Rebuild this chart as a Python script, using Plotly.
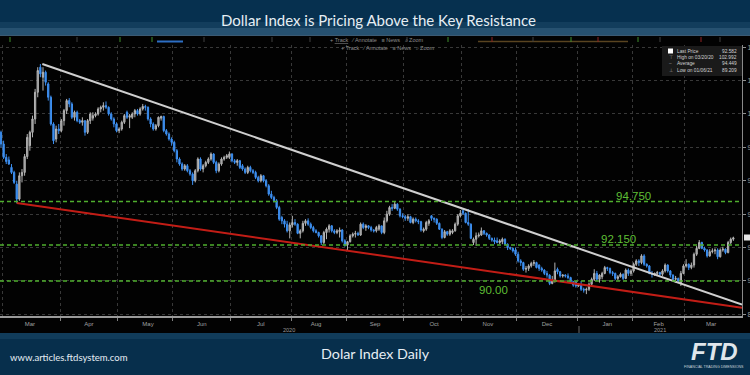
import pandas as pd
import plotly.graph_objects as go

# ---------------- data (daily OHLC, Feb 28 2020 -> Mar 25 2021, weekdays) ----------------
opens = [
    98.90, 98.20, 97.40, 97.25, 96.80, 96.50, 95.80, 94.90, 96.30, 96.50, 97.45, 98.10, 98.90, 99.70, 101.30, 102.80, 102.20, 102.50, 101.80, 101.00, 99.40, 98.50, 99.10,
    99.00, 99.60, 100.20, 100.80, 100.60, 99.80, 100.10, 99.60, 99.50, 99.60, 98.90, 99.60, 99.75, 99.90, 100.00, 100.30, 100.40, 100.50, 100.40, 100.00, 99.70, 99.40,
    99.00, 99.10, 99.50, 100.10, 99.80, 99.80, 100.00, 100.20, 100.00, 100.30, 100.45, 100.40, 99.70, 99.40, 99.10, 99.30, 99.75, 99.85, 99.00, 98.80, 98.50,
    98.30, 97.80, 97.30, 97.00, 96.70, 96.90, 96.60, 96.40, 96.00, 96.60, 97.30, 96.70, 96.90, 97.10, 97.30, 97.60, 97.10, 96.60, 97.00, 97.30, 97.40, 97.40,
    97.60, 97.20, 97.10, 97.20, 96.90, 96.70, 96.50, 96.80, 96.60, 96.50, 96.20, 96.00, 96.30, 96.00, 95.70, 95.20, 95.00, 94.80, 94.40, 93.80, 93.60, 93.40, 93.00,
    93.35, 93.50, 93.40, 92.85, 93.00, 93.45, 93.60, 93.40, 93.20, 93.00, 92.90, 92.70, 92.30, 92.90, 93.10, 93.30, 93.00, 92.90, 92.95, 93.05, 92.40,
    92.15, 92.35, 92.70, 92.80, 92.85, 92.75, 93.40, 93.20, 93.30, 93.20, 93.05, 93.00, 93.10, 93.30, 92.90, 93.60, 94.00, 94.40, 94.35, 94.60, 94.30, 93.90,
    93.85, 93.75, 93.85, 93.50, 93.70, 93.60, 93.55, 93.00, 93.10, 93.45, 93.90, 93.75, 93.70, 93.45, 93.10, 92.60, 92.95, 92.80, 92.90, 93.00, 93.40, 93.90,
    94.20, 94.05, 93.50, 93.40, 92.30, 92.50, 92.70, 92.75, 93.00, 92.85, 92.75, 92.55, 92.45, 92.40, 92.30, 92.35, 92.50, 92.20, 92.00, 91.95, 91.85,
    91.60, 91.20, 91.10, 90.70, 90.75, 90.90, 91.05, 91.10, 90.95, 90.75, 90.65, 90.45, 90.35, 89.85, 90.00, 90.70, 90.55, 90.30, 90.35, 90.30, 90.20, 89.95, 89.95,
    89.70, 89.75, 89.50, 89.45, 89.50, 89.80, 90.10, 90.45, 90.10, 90.25, 90.45, 90.80, 90.75, 90.50, 90.45, 90.15, 90.25, 90.40, 90.15, 90.65, 90.45,
    90.60, 91.00, 91.20, 91.10, 91.50, 91.00, 90.90, 90.45, 90.40, 90.45, 90.50, 90.40, 90.60, 90.95, 90.60, 90.35, 90.10, 90.15, 89.90, 90.45,
    90.90, 91.00, 90.80, 90.95, 91.60, 91.95, 92.30, 91.95, 91.85, 91.50, 91.75, 91.80, 91.85, 91.45, 91.85, 91.90, 91.70, 92.30, 92.50,
]
highs = [
    99.00, 98.40, 97.60, 97.45, 97.00, 96.60, 96.00, 96.50, 96.70, 97.60, 98.80, 99.00, 99.90, 101.50, 102.80, 102.99, 102.80, 102.60, 101.90, 101.10, 99.50, 99.30, 99.40,
    99.70, 100.30, 100.90, 100.95, 100.70, 100.20, 100.20, 99.70, 99.80, 99.60, 99.70, 100.10, 100.10, 100.10, 100.40, 100.50, 100.70, 100.75, 100.45, 100.10, 99.80, 99.50,
    99.20, 99.60, 100.00, 100.20, 100.00, 100.10, 100.30, 100.30, 100.40, 100.60, 100.55, 100.45, 99.80, 99.50, 99.40, 99.85, 99.90, 99.90, 99.10, 98.90, 98.60,
    98.40, 97.90, 97.40, 97.10, 97.00, 97.00, 96.70, 96.50, 96.70, 97.40, 97.40, 97.00, 97.20, 97.40, 97.70, 97.65, 97.20, 97.10, 97.40, 97.50, 97.60, 97.75,
    97.65, 97.30, 97.30, 97.25, 97.00, 96.80, 96.90, 96.90, 96.70, 96.60, 96.30, 96.40, 96.35, 96.10, 95.80, 95.40, 95.10, 94.90, 94.50, 93.90, 93.70, 93.60, 93.50,
    93.90, 93.70, 93.45, 93.10, 93.60, 93.70, 93.75, 93.50, 93.30, 93.10, 92.95, 92.75, 93.00, 93.20, 93.40, 93.35, 93.10, 93.10, 93.20, 93.10, 92.50,
    92.40, 92.80, 92.90, 93.00, 92.95, 93.50, 93.50, 93.40, 93.35, 93.30, 93.10, 93.30, 93.40, 93.30, 93.80, 94.20, 94.50, 94.60, 94.74, 94.65, 94.35, 94.05,
    93.95, 94.00, 93.90, 93.80, 93.80, 93.70, 93.60, 93.20, 93.60, 93.70, 93.95, 93.80, 93.75, 93.50, 93.15, 93.05, 93.00, 93.10, 93.10, 93.50, 94.00, 94.25,
    94.30, 94.10, 94.30, 93.45, 92.60, 92.90, 92.90, 93.20, 93.05, 92.90, 92.80, 92.60, 92.60, 92.60, 92.50, 92.60, 92.55, 92.25, 92.05, 92.00, 92.00,
    91.75, 91.30, 91.15, 90.90, 91.00, 91.15, 91.25, 91.15, 91.00, 90.85, 90.70, 90.60, 90.40, 90.30, 91.10, 90.80, 90.60, 90.40, 90.40, 90.45, 90.25, 90.00, 90.00,
    89.80, 90.00, 89.60, 89.60, 89.90, 90.20, 90.70, 90.60, 90.40, 90.55, 90.90, 90.85, 90.80, 90.60, 90.50, 90.35, 90.50, 90.45, 90.75, 90.75, 90.70,
    91.10, 91.30, 91.30, 91.60, 91.60, 91.05, 90.95, 90.60, 90.50, 90.60, 90.55, 90.70, 91.05, 91.00, 90.65, 90.40, 90.30, 90.20, 90.60, 91.00,
    91.30, 91.05, 91.10, 91.70, 92.10, 92.45, 92.35, 92.05, 91.90, 91.90, 91.95, 91.95, 91.95, 91.95, 92.05, 91.95, 92.40, 92.60, 92.65,
]
lows = [
    98.00, 97.30, 97.00, 96.95, 96.40, 95.80, 94.65, 94.80, 95.90, 96.30, 97.30, 97.80, 98.60, 99.40, 101.00, 102.20, 101.40, 101.70, 100.80, 99.30, 98.20, 98.30, 98.80,
    98.90, 99.30, 100.00, 100.40, 99.70, 99.60, 99.50, 99.40, 99.30, 98.70, 98.80, 99.40, 99.60, 99.80, 99.90, 100.10, 100.20, 100.30, 99.90, 99.60, 99.20, 98.90,
    98.85, 99.00, 99.40, 99.70, 99.15, 99.70, 99.80, 99.90, 99.90, 100.20, 100.20, 99.60, 99.20, 99.00, 99.00, 99.20, 99.60, 98.90, 98.70, 98.40, 98.10,
    97.70, 97.10, 96.90, 96.60, 96.60, 96.50, 96.30, 95.75, 95.90, 96.50, 96.60, 96.50, 96.80, 97.00, 97.20, 97.00, 96.45, 96.50, 96.90, 97.20, 97.30, 97.30,
    97.10, 97.00, 96.90, 96.70, 96.60, 96.40, 96.40, 96.50, 96.40, 96.10, 95.90, 95.90, 95.90, 95.60, 95.10, 94.90, 94.70, 94.30, 93.60, 93.40, 93.20, 92.90, 92.55,
    93.20, 93.30, 92.80, 92.55, 92.90, 93.30, 93.30, 93.10, 92.90, 92.85, 92.60, 92.15, 92.20, 92.50, 92.90, 92.90, 92.80, 92.80, 92.60, 92.30, 92.05,
    91.80, 92.30, 92.60, 92.60, 92.70, 92.70, 93.10, 93.00, 93.10, 92.95, 92.90, 92.90, 93.00, 92.80, 92.80, 93.50, 93.90, 94.20, 94.30, 94.20, 93.80, 93.75,
    93.60, 93.60, 93.45, 93.40, 93.50, 93.40, 92.95, 92.90, 93.00, 93.30, 93.60, 93.50, 93.35, 93.05, 92.50, 92.55, 92.70, 92.70, 92.80, 92.95, 93.30, 93.80,
    93.95, 93.45, 93.30, 92.50, 92.15, 92.10, 92.60, 92.70, 92.75, 92.65, 92.45, 92.35, 92.20, 92.25, 92.20, 92.20, 92.15, 91.85, 91.85, 91.70, 91.50,
    91.10, 90.90, 90.60, 90.50, 90.60, 90.80, 90.90, 90.75, 90.60, 90.55, 90.35, 90.20, 89.75, 89.80, 89.90, 90.40, 90.20, 90.20, 90.20, 90.10, 89.85, 89.65, 89.60,
    89.65, 89.40, 89.30, 89.21, 89.40, 89.70, 90.00, 90.00, 89.90, 90.10, 90.40, 90.60, 90.40, 90.30, 90.05, 90.05, 90.20, 90.05, 90.10, 90.30, 90.30,
    90.50, 90.90, 90.90, 91.00, 90.90, 90.80, 90.40, 90.20, 90.30, 90.35, 90.30, 90.30, 90.50, 90.50, 90.20, 90.00, 89.90, 89.90, 89.70, 90.40,
    90.80, 90.65, 90.70, 90.80, 91.50, 91.90, 91.90, 91.75, 91.40, 91.45, 91.65, 91.60, 91.30, 91.40, 91.75, 91.60, 91.65, 92.20, 92.40,
]
closes = [
    98.20, 97.40, 97.15, 97.00, 96.50, 95.90, 94.90, 96.30, 96.50, 97.45, 98.60, 98.90, 99.70, 101.30, 102.60, 102.40, 102.50, 101.90, 101.00, 99.40, 98.40, 99.10, 99.00,
    99.60, 100.20, 100.80, 100.60, 99.80, 100.10, 99.60, 99.50, 99.60, 98.90, 99.60, 100.00, 99.90, 100.00, 100.30, 100.40, 100.50, 100.40, 100.00, 99.70, 99.40, 99.00,
    99.10, 99.50, 99.90, 99.80, 99.90, 100.00, 100.20, 100.00, 100.30, 100.45, 100.40, 99.70, 99.40, 99.10, 99.30, 99.80, 99.85, 99.00, 98.80, 98.50, 98.30,
    97.80, 97.30, 97.00, 96.70, 96.90, 96.60, 96.40, 96.00, 96.60, 97.30, 96.70, 96.90, 97.10, 97.30, 97.60, 97.10, 96.60, 97.00, 97.30, 97.40, 97.50, 97.60,
    97.20, 97.10, 97.20, 96.80, 96.70, 96.50, 96.80, 96.60, 96.50, 96.20, 96.00, 96.30, 96.00, 95.70, 95.20, 95.00, 94.80, 94.40, 93.70, 93.60, 93.40, 93.00, 93.35,
    93.50, 93.40, 92.85, 93.00, 93.45, 93.60, 93.40, 93.20, 93.00, 92.90, 92.70, 92.30, 92.90, 93.10, 93.30, 93.00, 92.90, 93.00, 93.05, 92.40, 92.15,
    92.35, 92.70, 92.80, 92.85, 92.75, 93.40, 93.20, 93.30, 93.20, 93.05, 93.00, 93.20, 93.30, 92.90, 93.60, 94.00, 94.40, 94.35, 94.60, 94.30, 93.90, 93.85,
    93.75, 93.85, 93.50, 93.70, 93.60, 93.55, 93.05, 93.10, 93.50, 93.60, 93.75, 93.70, 93.45, 93.10, 92.60, 92.95, 92.80, 93.00, 93.00, 93.40, 93.90, 94.05,
    94.05, 93.50, 93.40, 92.55, 92.50, 92.70, 92.75, 93.00, 92.85, 92.75, 92.55, 92.45, 92.35, 92.30, 92.40, 92.50, 92.20, 92.00, 91.95, 91.80, 91.60,
    91.20, 91.10, 90.70, 90.75, 90.90, 91.05, 91.10, 90.80, 90.75, 90.65, 90.45, 90.35, 89.85, 90.00, 90.60, 90.55, 90.30, 90.35, 90.30, 90.20, 89.95, 89.75, 89.70,
    89.75, 89.50, 89.45, 89.50, 89.80, 90.10, 90.45, 90.10, 90.35, 90.45, 90.80, 90.75, 90.50, 90.45, 90.15, 90.25, 90.40, 90.15, 90.65, 90.45, 90.60,
    91.00, 91.20, 91.10, 91.50, 91.00, 90.90, 90.45, 90.40, 90.45, 90.50, 90.40, 90.60, 90.95, 90.60, 90.35, 90.10, 90.15, 90.00, 90.45, 90.90,
    91.00, 90.80, 90.95, 91.60, 91.95, 92.30, 91.95, 91.85, 91.50, 91.75, 91.80, 91.85, 91.45, 91.85, 91.90, 91.70, 92.30, 92.50, 92.58,
]

# key horizontal levels and their labels
levels = [94.75, 92.15, 90.00]
level_labels = ["94.750", "92.150", "90.00"]

# trend lines (anchor points)
resist_x = ["2020-03-23 06:00", "2021-03-30 19:00"]
resist_y = [102.99, 88.58]
support_x = ["2020-03-09 12:00", "2021-03-30 19:00"]
support_y = [94.67, 88.40]

# legend box values
legend_rows = [("Last Price", "92.582"), ("High on 03/20/20", "102.992"),
               ("Average", "94.449"), ("Low on 01/06/21", "89.209")]

dates = pd.bdate_range("2020-02-28", "2021-03-25") + pd.Timedelta(hours=12)
assert len(dates) == len(opens) == len(highs) == len(lows) == len(closes), (
    len(dates), len(opens), len(highs), len(lows), len(closes))

# ---------------- geometry helpers ----------------
W, H = 750, 375
L, R, T, B = 0, 8, 45, 59
PW, PH = W - L - R, H - T - B


def px(x):
    return (x - L) / PW


def py(y):
    return (H - B - y) / PH


shapes = []
annotations = []


def rect(x0, y0, x1, y1, color, opacity=1.0, layer="below"):
    shapes.append(dict(type="rect", xref="paper", yref="paper",
                       x0=px(x0), x1=px(x1), y0=py(y1), y1=py(y0),
                       fillcolor=color, opacity=opacity, line=dict(width=0), layer=layer))


def seg(x0, y0, x1, y1, color, width=1.0):
    shapes.append(dict(type="line", xref="paper", yref="paper",
                       x0=px(x0), x1=px(x1), y0=py(y0), y1=py(y1),
                       line=dict(color=color, width=width), layer="above"))


def text(t, x, y, size, color, xanchor="center", yanchor="middle", family="Liberation Sans", **kw):
    annotations.append(dict(text=t, xref="paper", yref="paper", x=px(x), y=py(y),
                            xanchor=xanchor, yanchor=yanchor, showarrow=False,
                            font=dict(size=size, color=color, family=family), **kw))


# ---------------- background bands ----------------
rect(0, 0, 750, 35, "#06304f")
rect(0, 22, 750, 35, "#2a5675", 0.35)
rect(0, 28, 750, 35, "#4d7896", 0.35)
rect(0, 333, 750, 375, "#072f4c")
rect(0, 333, 750, 339, "#1a4766", 0.55)
seg(0, 35.5, 750, 35.5, "#3b5a73", 1)

# toolbar strip decorations
seg(157, 41.5, 183, 41.5, "#2d6fc4", 2)
seg(478, 41.5, 628, 41.5, "#5a4420", 1.5)
for gx in [10, 120, 152, 448, 571, 638]:
    seg(gx, 37, gx, 42, "#3f8f2c", 1)
for rx in [492, 598, 701]:
    seg(rx, 37, rx, 42, "#8f2323", 1)
for kx in [77, 204, 272, 310, 407, 533, 660, 720]:
    seg(kx, 37, kx, 42, "#404040", 1)
text("+ <u>Track</u>   ⁄ Annotate   ≡ News   ⌕ Zoom", 377, 40, 5.5, "#8c8c8c")
text("+ Track   ⁄ Annotate   ≡ News   ⌕ Zoom", 388, 47.5, 5.5, "#8c8c8c")

# legend box
rect(662, 46, 742, 76, "#1a1a1a", 1.0, layer="above")
rect(668, 48.5, 673, 53.5, "#ffffff", 1.0, layer="above")
icons = ["", "⊤", "–", "⊥"]
for i, (lab, val) in enumerate(legend_rows):
    yy = 51 + i * 6.4
    if icons[i]:
        text(icons[i], 670.5, yy, 4.8, "#9a9a9a")
    text(lab, 675, yy, 4.8, "#d2d2d2", xanchor="left")
    text(val, 739, yy, 4.8, "#d2d2d2", xanchor="right")

# last price tag at right edge
rect(744, 234.5, 752, 240.5, "#e8e8e8", 1.0, layer="above")

# x axis year row
text("2020", 289, 330, 5.5, "#9a9a9a")
text("2021", 660, 330, 5.5, "#9a9a9a")
seg(579, 326, 579, 333, "#6a6a6a", 1)

# titles
text("Dollar Index is Pricing Above the Key Resistance", 378, 19.5, 15, "#e6eef4", family="Lato")
text("Dolar Index Daily", 376, 354, 14.3, "#e6eef4", family="Lato")
text("www.articles.ftdsystem.com", 8, 357, 9.5, "#e6eef4", xanchor="left", family="Lato")
text("<b><i>FTD</i></b>", 714, 351, 24, "#dfe6eb", family="Liberation Sans")
text("FINANCIAL TRADING DIMENSIONS", 714, 367, 3.6, "#c9d3da")

# level labels
lab_pos = [(633, 196), (618, 239), (494, 290)]
for lv, lb, (lx, ly) in zip(levels, level_labels, lab_pos):
    shapes.append(dict(type="line", xref="paper", yref="y", x0=0, x1=1, y0=lv, y1=lv,
                       line=dict(color="#4fae2e", width=1.5, dash="4px,3px"), layer="above"))
    text(lb, lx, ly, 11.5, "#5fbf35", family="Liberation Sans")

# ---------------- traces ----------------
fig = go.Figure()
fig.add_trace(go.Candlestick(
    x=dates, open=opens, high=highs, low=lows, close=closes,
    increasing=dict(line=dict(color="#b4b4b4", width=1), fillcolor="#8e8e8e"),
    decreasing=dict(line=dict(color="#3d8ff0", width=1), fillcolor="#3d8ff0"),
    whiskerwidth=0, showlegend=False, hoverinfo="skip"))
fig.add_trace(go.Scatter(x=resist_x, y=resist_y, mode="lines",
                         line=dict(color="#cfcfcf", width=2), showlegend=False, hoverinfo="skip"))
fig.add_trace(go.Scatter(x=support_x, y=support_y, mode="lines",
                         line=dict(color="#c21d16", width=2), showlegend=False, hoverinfo="skip"))

fig.update_layout(
    width=W, height=H,
    margin=dict(l=L, r=R, t=T, b=B, pad=0, autoexpand=False),
    paper_bgcolor="#020202", plot_bgcolor="#020202",
    shapes=shapes, annotations=annotations, showlegend=False,
    xaxis=dict(
        type="date", range=["2020-02-28 03:00", "2021-03-30 19:00"],
        rangebreaks=[dict(bounds=["sat", "mon"])],
        rangeslider=dict(visible=False), automargin=False,
        dtick="M1", tick0="2020-03-01", tickformat="%b", ticklabelmode="period",
        tickfont=dict(size=6, color="#a0a0a0", family="Liberation Sans"),
        ticks="outside", ticklen=3, tickcolor="#808080", ticklabelstandoff=-2,
        showgrid=True, gridcolor="#383838", griddash="dot", gridwidth=1,
        showline=True, linecolor="#9a9a9a", linewidth=2, zeroline=False,
    ),
    yaxis=dict(
        side="right", range=[87.90, 104.13], dtick=2, tick0=0, automargin=False,
        tickfont=dict(size=7, color="#a0a0a0", family="Liberation Sans"),
        ticks="outside", ticklen=3, tickcolor="#909090",
        showgrid=True, gridcolor="#383838", griddash="dot", gridwidth=1,
        showline=True, linecolor="#8a8a8a", linewidth=1, zeroline=False,
    ),
)

fig.write_html("out.html", config={"displayModeBar": False},
               post_script="document.body.style.margin='0';document.body.style.overflow='hidden';")
